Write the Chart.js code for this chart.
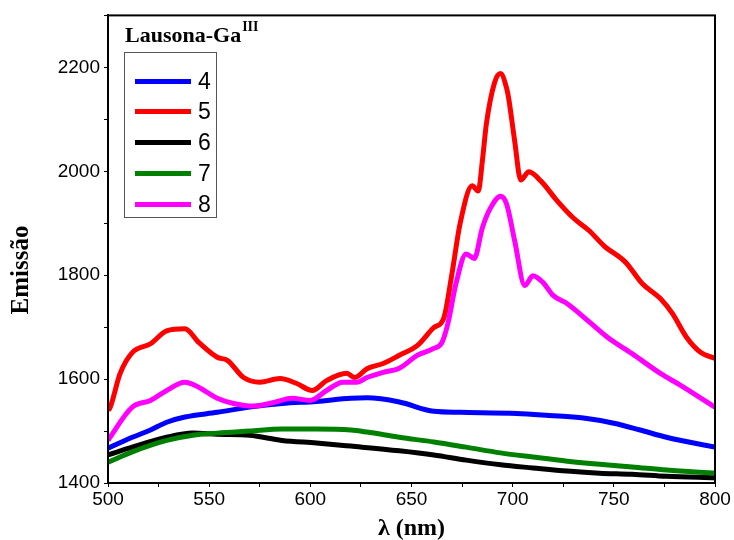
<!DOCTYPE html>
<html><head><meta charset="utf-8">
<script src="https://cdn.jsdelivr.net/npm/chart.js@4.4.1/dist/chart.umd.min.js"></script>
<style>
html,body{margin:0;padding:0;background:#fff;}
#wrap{position:relative;width:734px;height:540px;}
#ltitle{position:absolute;left:125px;top:24px;font:bold 22px "Liberation Serif",serif;line-height:22px;color:#000;white-space:nowrap;}
#ltitle .sup{font-size:14px;position:relative;top:-11px;margin-left:1px;}
#legend{position:absolute;left:124px;top:52px;width:93px;height:166px;border:1px solid #555;box-sizing:border-box;background:#fff;}
.lline{position:absolute;left:10px;width:56px;height:5px;}
.llab{position:absolute;left:73px;font:23px "Liberation Sans",Arial,sans-serif;line-height:23px;color:#000;}
</style></head><body>
<div id="wrap"><canvas id="c" width="734" height="540"></canvas>
<div id="ltitle">Lausona-Ga<span class="sup">III</span></div>
<div id="legend"></div>
</div>
<script>
const seriesLabels = ['4','5','6','7','8'];
const seriesColors = ['#0000ff','#ff0000','#000000','#008000','#ff00ff'];

const lambda4 = [500,512,521,529,538,554,570,586,603,620,628,644,661,674,702,718,735,750,763,776,800];
const em4     = [1467,1488,1502,1517,1527,1536,1546,1553,1557,1563,1564,1556,1538,1536,1534,1530,1525,1515,1502,1488,1469];

const lambda5 = [500,501,506,512,521,529,538,545,554,559,567,575,585,593,601,608,618,622,628,636,644,653,661,666,670,674,680,683,685,687,691,694,697,698,701,704,708,714,722,730,738,745,756,764,773,779,786,793,800];
const em5     = [1540,1545,1611,1651,1668,1693,1697,1670,1642,1636,1603,1594,1601,1592,1578,1597,1611,1603,1620,1630,1646,1665,1699,1718,1803,1899,1972,1962,2019,2091,2170,2188,2160,2141,2058,1983,1999,1981,1943,1910,1885,1857,1824,1784,1755,1726,1680,1651,1640];

const lambda6 = [500,512,529,542,554,570,586,603,620,644,661,677,694,710,727,743,759,776,800];
const em6     = [1454,1469,1488,1496,1494,1492,1482,1477,1471,1462,1454,1444,1435,1429,1423,1419,1417,1413,1410];

const lambda7 = [500,512,529,542,554,570,586,603,620,628,644,661,677,694,710,727,743,759,776,800];
const em7     = [1440,1460,1482,1492,1496,1500,1504,1504,1502,1498,1488,1479,1469,1458,1450,1442,1436,1431,1425,1419];

const lambda8 = [500,501,512,521,529,538,545,554,562,572,582,591,600,608,616,623,628,636,644,653,661,665,668,672,677,681,685,689,694,697,701,706,710,715,720,727,737,747,759,773,783,800];
const em8     = [1482,1488,1546,1559,1578,1594,1584,1563,1553,1548,1555,1563,1559,1578,1594,1594,1603,1613,1621,1646,1659,1670,1707,1784,1841,1832,1891,1929,1952,1937,1866,1780,1799,1786,1761,1745,1713,1680,1649,1611,1588,1546];

const xTickStep = 25, xLabelStep = 50;
const yTickStep = 100, yLabelStep = 200;
const xMin = 500, xMax = 800, yMin = 1400, yMax = 2300, yLabelMax = 2200;

const lambdas = [lambda4, lambda5, lambda6, lambda7, lambda8];
const ems = [em4, em5, em6, em7, em8];

const datasets = seriesLabels.map((lab, i) => ({
  label: lab,
  data: lambdas[i].map((x, k) => ({x: x, y: ems[i][k]})),
  borderColor: seriesColors[i],
  backgroundColor: seriesColors[i],
  borderWidth: 5,
  pointRadius: 0,
  fill: false,
  cubicInterpolationMode: 'monotone',
  order: seriesLabels.length - i
}));

// legend
const leg = document.getElementById('legend');
seriesLabels.forEach((lab, i) => {
  const cy = 29 + i * 30.75;
  const ln = document.createElement('div');
  ln.className = 'lline';
  ln.style.top = (cy - 2.5 - 1) + 'px';
  ln.style.background = seriesColors[i];
  leg.appendChild(ln);
  const t = document.createElement('div');
  t.className = 'llab';
  t.style.top = (cy - 11.3 - 1) + 'px';
  t.textContent = lab;
  leg.appendChild(t);
});

const framePlugin = {
  id: 'frame',
  afterDraw(chart) {
    const {ctx, chartArea: a} = chart;
    ctx.save();
    ctx.strokeStyle = '#000';
    ctx.lineWidth = 2;
    ctx.strokeRect(a.left, a.top, a.right - a.left, a.bottom - a.top);
    ctx.translate(22, 270);
    ctx.rotate(-Math.PI / 2);
    ctx.fillStyle = '#000';
    ctx.font = 'bold 25px "Liberation Serif"';
    ctx.textAlign = 'center';
    ctx.textBaseline = 'middle';
    ctx.fillText('Emissão', 0, 0);
    ctx.restore();
  }
};

Chart.defaults.font.family = '"Liberation Sans", Arial, sans-serif';
Chart.defaults.color = '#000';

new Chart(document.getElementById('c'), {
  type: 'line',
  data: {datasets},
  plugins: [framePlugin],
  options: {
    responsive: false,
    animation: false,
    layout: {padding: {left: 0, right: 19, top: 14, bottom: 0}},
    plugins: {legend: {display: false}, tooltip: {enabled: false}},
    scales: {
      x: {
        type: 'linear', min: xMin, max: xMax,
        afterFit(s) { s.height = 57; },
        ticks: {
          stepSize: xTickStep, autoSkip: false, maxRotation: 0, padding: 1,
          font: {size: 19}, color: '#000',
          callback: v => (v % xLabelStep === 0 ? String(v) : '')
        },
        grid: {drawOnChartArea: false, drawTicks: true, tickLength: 4, tickColor: '#000', lineWidth: 1},
        border: {display: true, color: '#000', width: 2},
        title: {display: true, text: 'λ (nm)', font: {family: '"Liberation Serif"', size: 24, weight: 'bold'}, color: '#000', padding: {top: 0, bottom: -3}}
      },
      y: {
        type: 'linear', min: yMin, max: yMax,
        afterFit(s) { s.width = 108; },
        ticks: {
          stepSize: yTickStep, autoSkip: false, padding: 4,
          font: {size: 19}, color: '#000',
          callback: v => (v % yLabelStep === 0 && v <= yLabelMax ? String(v) : '')
        },
        grid: {drawOnChartArea: false, drawTicks: true, tickLength: 4, tickColor: '#000', lineWidth: 1},
        border: {display: true, color: '#000', width: 2}
      }
    }
  }
});
</script>
</body></html>
